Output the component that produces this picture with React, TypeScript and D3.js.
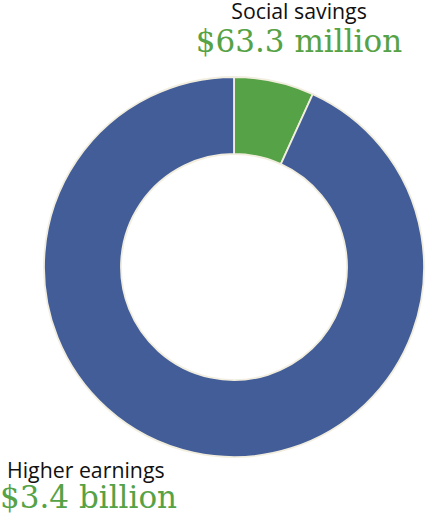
import React from "react";
import * as d3 from "d3";

const categories = ["Social savings", "Higher earnings"];
const valueLabels = ["$63.3 million", "$3.4 billion"];
// shares of the ring as drawn in the picture (percent)
const drawnShares = [6.8, 93.2];
const colors = ["#56a246", "#435d98"];

const W = 425;
const H = 515;
const cx = 234;
const cy = 267;
const outerR = 190;
const innerR = 113;

export default function App() {
  const pie = d3.pie<number>().sort(null).value((d) => d);
  const arcs = pie(drawnShares);
  const arc = d3.arc<d3.PieArcDatum<number>>().innerRadius(innerR).outerRadius(outerR);
  const sans = "'Open Sans', 'Noto Sans', sans-serif";
  const serif = "'DejaVu Serif', serif";
  return (
    <svg
      width={W}
      height={H}
      style={{ position: "absolute", left: 0, top: 0, background: "#fff" }}
    >
      <g transform={`translate(${cx},${cy})`}>
        {arcs.map((a, i) => (
          <path
            key={i}
            d={arc(a) || ""}
            fill={colors[i]}
            stroke="#f2eedf"
            strokeWidth={1.8}
          />
        ))}
      </g>
      <text x={299} y={19} textAnchor="middle" fontFamily={sans} fontSize={21.3} fill="#111">
        {categories[0]}
      </text>
      <text x={299} y={52} textAnchor="middle" fontFamily={serif} fontSize={31} fill={colors[0]}>
        {valueLabels[0]}
      </text>
      <text x={7} y={478} fontFamily={sans} fontSize={21.3} fill="#111">
        {categories[1]}
      </text>
      <text x={0} y={508} fontFamily={serif} fontSize={31} fill={colors[0]}>
        {valueLabels[1]}
      </text>
    </svg>
  );
}
